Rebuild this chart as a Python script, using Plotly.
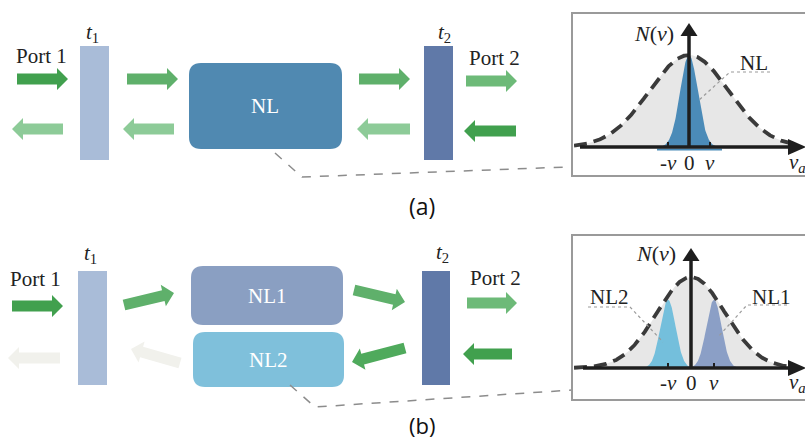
import math
import numpy as np
import plotly.graph_objects as go

W, H = 805, 442

# ---------------- data ----------------
panel_labels = ["(a)", "(b)"]
tick_pos = [-1, 0, 1]
tick_text = ["-<i>v</i>", "0", "<i>v</i>"]

# Gaussian components of the insets: (center in v, sigma in v, peak height, color)
inset_a_bg = dict(center=0.0, sigma=1.9, peak=1.0)
inset_a_modes = [("NL", 0.0, 0.42, 1.0, "#4b8bb8")]
inset_b_bg = dict(center=0.0, sigma=1.48, peak=1.0)
inset_b_modes = [("NL2", -1.0, 0.33, 0.75, "#74bfdc"),
                 ("NL1", 1.0, 0.33, 0.75, "#8b9fc6")]

# ---------------- colours ----------------
DARK = "#41a04e"
MED = "#5fb06b"
MEDL = "#6dba78"
LIGHT = "#8dcb98"
FADE = "#f1f1ec"
SERIF = "Liberation Serif"

fig = go.Figure()
shapes = []
annots = []


def arrow(x0, y0, x1, y1, color, sw=5.5, hw=11, hl=11):
    dx, dy = x1 - x0, y1 - y0
    L = math.hypot(dx, dy)
    ux, uy = dx / L, dy / L
    nx, ny = -uy, ux
    bx, by = x1 - ux * hl, y1 - uy * hl
    pts = [(x0 + nx * sw, y0 + ny * sw), (bx + nx * sw, by + ny * sw),
           (bx + nx * hw, by + ny * hw), (x1, y1),
           (bx - nx * hw, by - ny * hw), (bx - nx * sw, by - ny * sw),
           (x0 - nx * sw, y0 - ny * sw)]
    p = "M " + " L ".join(f"{a:.2f},{b:.2f}" for a, b in pts) + " Z"
    shapes.append(dict(type="path", path=p, fillcolor=color, line=dict(width=0),
                       xref="x", yref="y", layer="below"))


def rrect(x0, y0, x1, y1, color, r=12):
    p = (f"M {x0+r},{y0} L {x1-r},{y0} Q {x1},{y0} {x1},{y0+r} L {x1},{y1-r} "
         f"Q {x1},{y1} {x1-r},{y1} L {x0+r},{y1} Q {x0},{y1} {x0},{y1-r} "
         f"L {x0},{y0+r} Q {x0},{y0} {x0+r},{y0} Z")
    shapes.append(dict(type="path", path=p, fillcolor=color, line=dict(width=0),
                       xref="x", yref="y", layer="below"))


def rect(x0, y0, x1, y1, color):
    shapes.append(dict(type="rect", x0=x0, y0=y0, x1=x1, y1=y1, fillcolor=color,
                       line=dict(width=0), xref="x", yref="y", layer="below"))


def poly(pts, color, width=1.5, dash="dash"):
    p = "M " + " L ".join(f"{a},{b}" for a, b in pts)
    shapes.append(dict(type="path", path=p, line=dict(color=color, width=width, dash=dash),
                       xref="x", yref="y"))


def text(x, y, t, size=21, color="#222", family=SERIF):
    annots.append(dict(x=x, y=y, xref="x", yref="y", text=t, showarrow=False,
                       xanchor="center", yanchor="middle",
                       font=dict(family=family, size=size, color=color)))


# ---------------- panel (a) ----------------
text(41, 56, "Port 1")
text(92, 33, "<i>t</i><sub>1</sub>", size=21)
rect(80, 46, 109, 160, "#a9bcd8")
arrow(17, 79, 68, 79, DARK)
arrow(127, 79, 178, 79, MED)
arrow(63, 129, 12, 129, LIGHT)
arrow(174, 129, 123, 129, LIGHT)
rrect(189, 63, 342, 149, "#5089b1")
text(265, 106, "NL", color="white")
arrow(359, 79, 410, 79, MED)
arrow(410, 129, 357, 129, LIGHT)
rect(424, 46, 453, 160, "#6079a8")
text(444, 33, "<i>t</i><sub>2</sub>", size=21)
text(494, 58, "Port 2")
arrow(466, 81, 517, 81, MEDL)
arrow(516, 131, 464, 131, DARK)
poly([(275, 153), (302, 177), (567, 167)], "#8c8c8c")
text(422, 206, panel_labels[0], size=23, family="Open Sans", color="#111")

# ---------------- panel (b) ----------------
text(35, 279, "Port 1")
text(90, 254, "<i>t</i><sub>1</sub>", size=21)
rect(78, 271, 107, 385, "#a9bcd8")
arrow(12, 306, 63, 306, DARK)
arrow(60, 358, 8, 358, FADE)
arrow(124, 305, 174, 293, MED)
arrow(180, 363, 131, 349, FADE)
rrect(191, 266, 343, 325, "#8a9fc2")
text(267, 296, "NL1", color="white")
rrect(193, 332, 344, 387, "#7fc0db")
text(268, 360, "NL2", color="white")
arrow(354, 290, 405, 302, MED)
arrow(405, 348, 352, 362, "#4faa5c")
rect(422, 271, 450, 385, "#6079a8")
text(442, 253, "<i>t</i><sub>2</sub>", size=21)
text(495, 278, "Port 2")
arrow(467, 303, 517, 303, MEDL)
arrow(512, 354, 463, 354, DARK)
poly([(290, 385), (315, 407), (572, 390)], "#8c8c8c")
text(422, 425, panel_labels[1], size=22, family="Open Sans", color="#111")


# ---------------- insets ----------------
def inset(idx, box, ox, oy, sx, sy, tip_y, ax_x0, bg, modes, leaders, labels, nlabel_xy,
          base_line=None):
    bx0, by0, bx1, by1 = box
    shapes.append(dict(type="rect", x0=bx0, y0=by0, x1=bx1, y1=by1, xref="x", yref="y",
                       line=dict(color="#9a9a9a", width=2), fillcolor="rgba(0,0,0,0)"))
    X0, X1 = bx0 + 2, W
    Y0, Y1 = by0 + 2, by1 - 2
    xa, ya = f"xaxis{idx}", f"yaxis{idx}"
    fig.layout[xa] = dict(domain=[X0 / W, X1 / W], range=[(X0 - ox) / sx, (X1 - ox) / sx],
                          visible=False, fixedrange=True)
    fig.layout[ya] = dict(domain=[1 - Y1 / H, 1 - Y0 / H], range=[(oy - Y1) / sy, (oy - Y0) / sy],
                          visible=False, fixedrange=True)
    xr, yr = f"x{idx}", f"y{idx}"
    xs = np.linspace((X0 - ox) / sx, (ax_x0 + 215 - ox) / sx, 400)
    g = bg["peak"] * np.exp(-0.5 * ((xs - bg["center"]) / bg["sigma"]) ** 2)
    fig.add_trace(go.Scatter(x=xs, y=g, xaxis=xr, yaxis=yr, mode="lines", fill="tozeroy",
                             fillcolor="#e7e7e7", line=dict(width=0), hoverinfo="skip"))
    for name, c, s, pk, col in modes:
        xm = np.linspace(c - 4 * s, c + 4 * s, 200)
        gm = pk * np.exp(-0.5 * ((xm - c) / s) ** 2)
        fig.add_trace(go.Scatter(x=xm, y=gm, xaxis=xr, yaxis=yr, mode="lines", fill="tozeroy",
                                 fillcolor=col, line=dict(width=0, color=col), hoverinfo="skip"))
    fig.add_trace(go.Scatter(x=xs, y=g, xaxis=xr, yaxis=yr, mode="lines",
                             line=dict(color="#3a3a3a", width=3.8, dash="13px,7px"),
                             hoverinfo="skip"))
    if base_line:
        shapes.append(dict(type="line", x0=base_line[0], x1=base_line[1], y0=oy + 2.5,
                           y1=oy + 2.5, xref="x", yref="y", line=dict(color="#4b8bb8", width=2)))
    # axes
    shapes.append(dict(type="line", x0=ax_x0, x1=792, y0=oy, y1=oy, xref="x", yref="y",
                       line=dict(color="#1e1e1e", width=3.5)))
    shapes.append(dict(type="path", path=f"M 788,{oy-8} L 806,{oy} L 788,{oy+8} Z",
                       fillcolor="#1e1e1e", line=dict(width=0), xref="x", yref="y"))
    shapes.append(dict(type="line", x0=ox, x1=ox, y0=oy, y1=tip_y + 12, xref="x", yref="y",
                       line=dict(color="#1e1e1e", width=3.5)))
    shapes.append(dict(type="path",
                       path=f"M {ox-8.5},{tip_y+13} L {ox},{tip_y} L {ox+8.5},{tip_y+13} Z",
                       fillcolor="#1e1e1e", line=dict(width=0), xref="x", yref="y"))
    for tp in (-1, 1):
        shapes.append(dict(type="line", x0=ox + tp * sx, x1=ox + tp * sx, y0=oy - 5, y1=oy,
                           xref="x", yref="y", line=dict(color="#1e1e1e", width=2)))
    for tp, tt in zip(tick_pos, tick_text):
        annots.append(dict(x=tp, y=-0.17, xref=xr, yref=yr, text=tt, showarrow=False,
                           xanchor="center", yanchor="middle",
                           font=dict(family=SERIF, size=21, color="#222")))
    annots.append(dict(x=(797 - ox) / sx, y=-0.17, xref=xr, yref=yr, text="<i>v<sub>a</sub></i>",
                       showarrow=False, xanchor="center", yanchor="middle",
                       font=dict(family=SERIF, size=21, color="#222")))
    text(nlabel_xy[0], nlabel_xy[1], "<i>N</i>(<i>v</i>)", size=22)
    for pts in leaders:
        poly(pts, "#9a9a9a", width=1.2, dash="dot")
    for (lx, ly, lt) in labels:
        text(lx, ly, lt, size=21)


inset(2, (572, 13, 812, 176), 689, 147, 21, 92, 23, 580, inset_a_bg, inset_a_modes,
      leaders=[[(770, 72), (730, 72), (698, 101)]],
      labels=[(754, 63, inset_a_modes[0][0])], nlabel_xy=(654, 33),
      base_line=(657, 722))

inset(3, (572, 235, 812, 400), 691, 368, 23, 91, 248, 583, inset_b_bg, inset_b_modes,
      leaders=[[(588, 307), (630, 307), (663, 342)], [(787, 305), (747, 305), (718, 337)]],
      labels=[(609, 297, inset_b_modes[0][0]), (771, 297, inset_b_modes[1][0])],
      nlabel_xy=(656, 253))

fig.update_layout(
    width=W, height=H, margin=dict(l=0, r=0, t=0, b=0),
    paper_bgcolor="white", plot_bgcolor="rgba(0,0,0,0)", showlegend=False,
    xaxis=dict(domain=[0, 1], range=[0, W], visible=False, fixedrange=True),
    yaxis=dict(domain=[0, 1], range=[H, 0], visible=False, fixedrange=True),
    shapes=shapes, annotations=annots,
)
fig.write_html("out.html")
